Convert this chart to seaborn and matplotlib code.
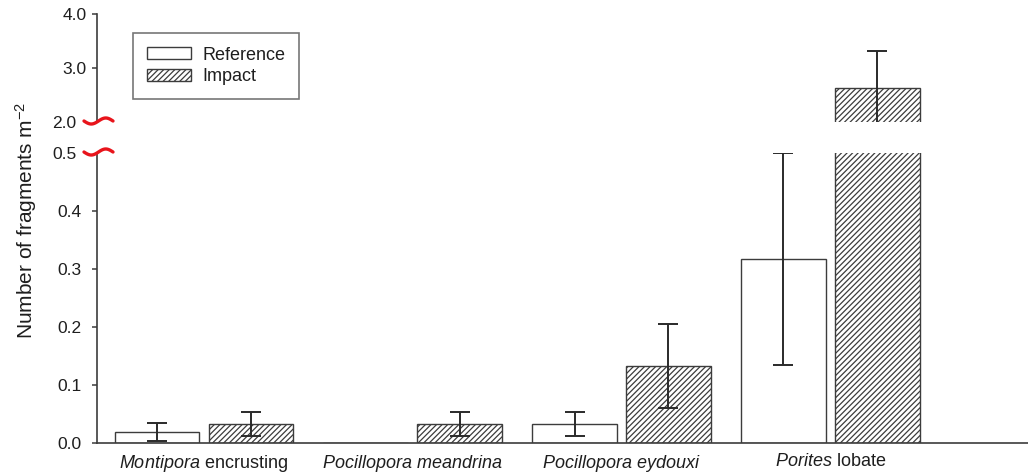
import numpy as np
import pandas as pd
import matplotlib
matplotlib.use("Agg")
import matplotlib.pyplot as plt
import seaborn as sns

# --- data -------------------------------------------------------------
species = ["Montipora encrusting", "Pocillopora meandrina",
           "Pocillopora eydouxi", "Porites lobate"]
species_labels = [r"$\it{Montipora}$ encrusting",
                  r"$\it{Pocillopora\ meandrina}$",
                  r"$\it{Pocillopora\ eydouxi}$",
                  r"$\it{Porites}$ lobate"]
sites = ["Reference", "Impact"]
reference_mean = [0.019, 0.0, 0.033, 0.317]
reference_se = [0.016, 0.0, 0.021, 0.183]
impact_mean = [0.033, 0.033, 0.133, 2.63]
impact_se = [0.021, 0.021, 0.072, 0.68]

lower_ticks = [0.0, 0.1, 0.2, 0.3, 0.4, 0.5]
upper_ticks = [2.0, 3.0, 4.0]

df = pd.DataFrame({
    "species": species * 2,
    "site": [sites[0]] * 4 + [sites[1]] * 4,
    "value": reference_mean + impact_mean,
    "se": reference_se + impact_se,
})

# --- style ------------------------------------------------------------
sns.set_theme(style="white")
plt.rcParams["font.family"] = ["Liberation Sans", "DejaVu Sans"]
plt.rcParams["mathtext.fontset"] = "custom"
plt.rcParams["mathtext.rm"] = "Liberation Sans"
plt.rcParams["mathtext.it"] = "Liberation Sans:italic"
plt.rcParams["hatch.linewidth"] = 0.9

EDGE = "#3c3c3c"
TEXT = "#1e1e1e"
W, H = 1028, 475
TICK_FS = 12.5
CAT_FS = 13

fig = plt.figure(figsize=(W / 100, H / 100), dpi=100)
left = 97 / W
ax_hi = fig.add_axes([left, 1 - 122 / H, 1 - left, (122 - 14) / H])
ax_lo = fig.add_axes([left, 1 - 443 / H, 1 - left, (443 - 153) / H])

palette = {"Reference": "white", "Impact": "white"}
for ax in (ax_hi, ax_lo):
    sns.barplot(data=df, x="species", y="value", hue="site", order=species,
                hue_order=sites, palette=palette, width=0.9, gap=0.1,
                errorbar=None, edgecolor=EDGE, linewidth=1.0, saturation=1,
                legend=False, ax=ax)
    # hatch the Impact bars
    for bar in ax.containers[1]:
        bar.set_hatch("//////")
    # error bars at the bar centres
    for cont, site in zip(ax.containers, sites):
        sub = df[df["site"] == site]
        xs = np.array([b.get_x() + b.get_width() / 2 for b in cont])
        m = sub["se"].to_numpy() > 0
        ax.errorbar(xs[m], sub["value"].to_numpy()[m],
                    yerr=sub["se"].to_numpy()[m], fmt="none", ecolor="#2a2a2a",
                    elinewidth=1.4, capsize=7, capthick=1.4, zorder=5)
    ax.set_xlim(-0.512, 3.947)
    ax.set_xlabel("")
    ax.set_ylabel("")
    for s in ("top", "right"):
        ax.spines[s].set_visible(False)
    ax.spines["left"].set_color(EDGE)
    ax.spines["left"].set_linewidth(1.2)
    ax.tick_params(axis="y", which="both", left=True, length=3.8, width=1.1,
                   color=EDGE, labelsize=TICK_FS, labelcolor=TEXT)

ax_lo.set_ylim(0, 0.5)
ax_lo.set_yticks(lower_ticks)
ax_lo.set_yticklabels([f"{t:.1f}" for t in lower_ticks])
ax_lo.tick_params(axis="y", pad=7.2)
ax_lo.spines["bottom"].set_color(EDGE)
ax_lo.spines["bottom"].set_linewidth(1.2)
ax_lo.set_xticks(range(len(species)))
ax_lo.set_xticklabels(species_labels)
ax_lo.tick_params(axis="x", bottom=False, labelsize=CAT_FS, labelcolor=TEXT,
                  pad=1.5)

ax_hi.set_ylim(2.0, 4.0)
ax_hi.set_yticks(upper_ticks)
ax_hi.set_yticklabels([f"{t:.1f}" for t in upper_ticks])
ax_hi.tick_params(axis="y", pad=3.6)
ax_hi.spines["bottom"].set_visible(False)
ax_hi.set_xticks([])

# the break ticks carry a squiggle instead of a tick mark
for tick in (ax_hi.yaxis.get_major_ticks()[0], ax_lo.yaxis.get_major_ticks()[-1]):
    tick.tick1line.set_visible(False)
    tick.set_pad(7.2 + 3.8)

# break marks on the value axis
fig_inv = fig.transFigure.inverted()
for ax, yb in ((ax_hi, 2.0), (ax_lo, 0.5)):
    x0, y0 = ax.transData.transform((ax.get_xlim()[0], yb))
    t = np.linspace(0, 1, 60)
    px = x0 - 13 + 29 * t
    py = y0 - 3.0 * np.sin(2 * np.pi * t) + 1
    pts = fig_inv.transform(np.column_stack([px, py]))
    fig.add_artist(plt.Line2D(pts[:, 0], pts[:, 1], color="#e8141b",
                              lw=2.4, solid_capstyle="round"))

# legend
handles = [ax_hi.containers[0], ax_hi.containers[1]]
leg = ax_hi.legend(handles, sites, loc="upper left",
                   bbox_to_anchor=(133 / W, 1 - 33 / H),
                   bbox_transform=fig.transFigure, borderaxespad=0,
                   fancybox=False, frameon=True, fontsize=CAT_FS,
                   handlelength=2.45, handleheight=0.6, handletextpad=0.65,
                   labelspacing=0.26, borderpad=0.75, labelcolor=TEXT)
leg.get_frame().set_edgecolor("#555555")
leg.get_frame().set_linewidth(1.2)

fig.text(26 / W, 1 - 220 / H, r"Number of fragments m$^{-2}$", rotation=90,
         ha="center", va="center", fontsize=15, color=TEXT)

fig.savefig("out.png", dpi=100, facecolor="white")
